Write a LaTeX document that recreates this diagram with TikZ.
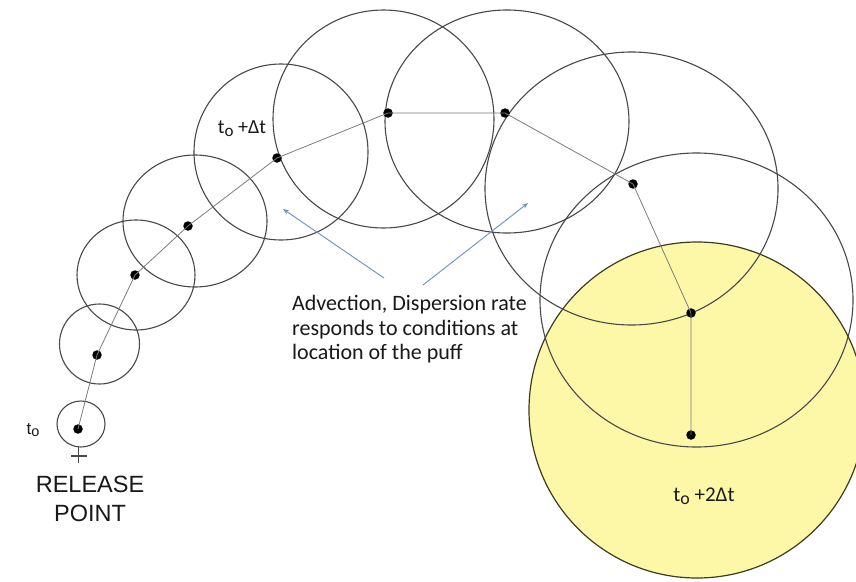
\documentclass[tikz,border=0pt]{standalone}
\usepackage{fontspec}
\setmainfont{Carlito}
\newfontfamily\arialfont{Liberation Sans}
\usetikzlibrary{arrows.meta}
\definecolor{ringcol}{RGB}{72,72,72}
\definecolor{puffyellow}{RGB}{253,248,168}
\definecolor{yellowedge}{RGB}{60,60,30}
\definecolor{trackgray}{RGB}{125,125,125}
\definecolor{arrowblue}{RGB}{105,145,195}
\definecolor{textgray}{RGB}{25,25,25}
\newcommand\subo{\raisebox{-0.3ex}{\scalebox{0.85}{o}}}
\begin{document}
\begin{tikzpicture}[x=1pt,y=-1pt,
  ring/.style={draw=ringcol,line width=1.1pt},
  puffdot/.style={circle,fill=black,inner sep=0pt,minimum size=9.5pt},
  track/.style={draw=trackgray,line width=0.8pt},
  advarrow/.style={draw=arrowblue,line width=0.9pt,-{Stealth[length=6pt,width=4.5pt]}},
  lbl/.style={text=textgray,inner sep=0pt}]
\useasboundingbox (0,0) rectangle (856,581);
\fill[white] (0,0) rectangle (856,581);
% final (yellow) puff
\fill[puffyellow] (697,410) circle [radius=168];
\draw[yellowedge,line width=1.2pt] (697,410) circle [radius=168];
% puffs
\draw[ring] (81,424) ellipse [x radius=24,y radius=23];
\draw[ring] (99.5,344) ellipse [x radius=40,y radius=40];
\draw[ring] (136,275) ellipse [x radius=59,y radius=55];
\draw[ring] (195,221) ellipse [x radius=72,y radius=66];
\draw[ring] (281,152) ellipse [x radius=87,y radius=88];
\draw[ring] (383.5,119) ellipse [x radius=110.5,y radius=109];
\draw[ring] (507,121.5) ellipse [x radius=122,y radius=111.5];
\draw[ring] (631.5,188.5) ellipse [x radius=146.5,y radius=136.5];
\draw[ring] (696.5,300) ellipse [x radius=156.5,y radius=147];
% release symbol cross
\coordinate (crossTop) at (78.5,447);
\coordinate (crossBot) at (78.5,463);
\coordinate (crossL) at (71,456);
\coordinate (crossR) at (87,456);
\draw[ringcol,line width=1.1pt] (crossTop) -- (crossBot);
\draw[ringcol,line width=1.1pt] (crossL) -- (crossR);
% puff centres
\node[puffdot] (d1) at (78,429) {};
\node[puffdot] (d2) at (97,355) {};
\node[puffdot] (d3) at (135,275) {};
\node[puffdot] (d4) at (188,226) {};
\node[puffdot] (d5) at (277,158) {};
\node[puffdot] (d6) at (388,113) {};
\node[puffdot] (d7) at (505,113) {};
\node[puffdot] (d8) at (633,184) {};
\node[puffdot] (d9) at (691,313) {};
\node[puffdot] (d10) at (691,435) {};
\draw[track] (d1.center) -- (d2.center) -- (d3.center) -- (d4.center) -- (d5.center) -- (d6.center) -- (d7.center) -- (d8.center) -- (d9.center) -- (d10.center);
% labels
\node[lbl,font=\arialfont\fontsize{17}{20}\selectfont] (t0) at (33,430) {t\subo};
\node[lbl,font=\arialfont\fontsize{23.5}{28.7}\selectfont,align=center] (rel) at (90,499) {RELEASE\\POINT};
\node[lbl,font=\fontsize{20}{22}\selectfont] (t1) at (242,129) {t\subo{} +Δt};
\node[lbl,font=\fontsize{21}{24}\selectfont] (t2) at (704,496) {t\subo{} +2Δt};
\node[lbl,font=\fontsize{22}{24.5}\selectfont,align=left,anchor=west] (adv) at (292,329.5) {Advection, Dispersion rate\\responds to conditions at\\location of the puff};
% advection arrows
\coordinate (a1tail) at (384,278);
\coordinate (a1head) at (283,209);
\coordinate (a2tail) at (423,285);
\coordinate (a2head) at (528,203);
\draw[advarrow] (a1tail) -- (a1head);
\draw[advarrow] (a2tail) -- (a2head);
\end{tikzpicture}
\end{document}
